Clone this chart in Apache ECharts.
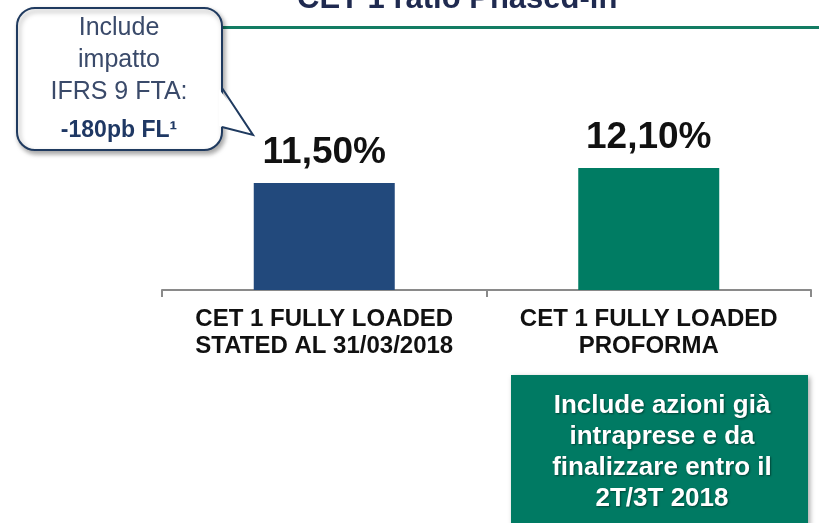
<!DOCTYPE html>
<html>
<head>
<meta charset="utf-8">
<title>CET 1 ratio</title>
<script src="https://cdn.jsdelivr.net/npm/echarts@6/dist/echarts.min.js"></script>
<style>
	html, body { margin: 0; padding: 0; background: #fff; }
	#chart { width: 819px; height: 523px; }
</style>
</head>
<body>
<div id="chart"></div>
<script>
// dati del grafico
let categorie = ["CET 1 FULLY LOADED\nSTATED AL 31/03/2018", "CET 1 FULLY LOADED\nPROFORMA"];
let valori = [11.50, 12.10];
let colori = ["#22497C", "#007C63"];
let etichette = ["11,50%", "12,10%"];

let titolo = "CET 1 ratio Phased-in";
let notaSx = ["Include", "impatto", "IFRS 9 FTA:"];
let notaSxBold = "-180pb FL¹";
let notaDx = "Include azioni già\nintraprese e da\nfinalizzare entro il\n2T/3T 2018";

var myChart = echarts.init(document.getElementById("chart"));

var option = {
	animation: false,
	grid: { left: 162, right: 8, top: 46, bottom: 233 },
	xAxis: {
		type: "category",
		data: categorie,
		axisLine: { lineStyle: { color: "#8a8a8a", width: 2 } },
		axisTick: { show: true, interval: 0, length: 7, lineStyle: { color: "#8a8a8a", width: 2 } },
		axisLabel: {
			interval: 0,
			hideOverlap: false,
			margin: 16,
			fontFamily: "Liberation Sans",
			fontWeight: "bold",
			fontSize: 24,
			lineHeight: 27,
			color: "#111"
		}
	},
	yAxis: {
		type: "value",
		min: 7.2,
		max: 17,
		show: false,
		splitLine: { show: false }
	},
	series: [{
		type: "bar",
		barWidth: 141,
		data: valori.map(function (v, i) {
			return { value: v, itemStyle: { color: colori[i] } };
		}),
		label: {
			show: true,
			position: "top",
			distance: 12,
			formatter: function (p) { return etichette[p.dataIndex]; },
			fontFamily: "Liberation Sans",
			fontWeight: "bold",
			fontSize: 37,
			color: "#111"
		}
	}],
	graphic: [
		// titolo tagliato in alto
		{
			type: "text", x: 297, y: 15,
			style: {
				text: titolo, align: "left", verticalAlign: "bottom",
				fontFamily: "Liberation Sans", fontWeight: "bold", fontSize: 31, fill: "#1F2A50"
			}
		},
		// linea verde sotto il titolo
		{
			type: "rect", shape: { x: 218, y: 26, width: 601, height: 3 },
			style: { fill: "#137C63" }
		},
		// fumetto a sinistra
		{
			type: "rect", shape: { x: 17, y: 8, width: 205, height: 142, r: 18 },
			style: {
				fill: "#fff", stroke: "#1F3A5F", lineWidth: 2,
				shadowBlur: 5, shadowOffsetX: 2, shadowOffsetY: 3, shadowColor: "rgba(0,0,0,0.35)"
			}
		},
		{
			type: "polygon", shape: { points: [[219, 89], [253, 135], [219, 126]] },
			style: { fill: "#fff" }
		},
		{
			type: "polyline", shape: { points: [[222, 88], [253, 135], [222, 127]] },
			style: { stroke: "#1F3A5F", lineWidth: 2, fill: null }
		},
		{
			type: "text", x: 119, y: 60,
			style: {
				text: notaSx.join("\n"), align: "center", verticalAlign: "middle",
				fontFamily: "Liberation Sans", fontSize: 25, lineHeight: 32, fill: "#3A4A6A"
			}
		},
		{
			type: "text", x: 119, y: 131,
			style: {
				text: notaSxBold, align: "center", verticalAlign: "middle",
				fontFamily: "Liberation Sans", fontWeight: "bold", fontSize: 23, fill: "#1F3864"
			}
		},
		// riquadro verde in basso a destra
		{
			type: "rect", shape: { x: 511, y: 375, width: 297, height: 170 },
			style: {
				fill: "#007A63",
				shadowBlur: 5, shadowOffsetX: 2, shadowOffsetY: 2, shadowColor: "rgba(0,0,0,0.35)"
			}
		},
		{
			type: "text", x: 662, y: 452,
			style: {
				text: notaDx, align: "center", verticalAlign: "middle",
				fontFamily: "Liberation Sans", fontWeight: "bold", fontSize: 26, lineHeight: 31, fill: "#fff",
				textShadowColor: "rgba(0,0,0,0.45)", textShadowBlur: 2, textShadowOffsetX: 1, textShadowOffsetY: 1
			}
		}
	]
};

myChart.setOption(option);
</script>
</body>
</html>
